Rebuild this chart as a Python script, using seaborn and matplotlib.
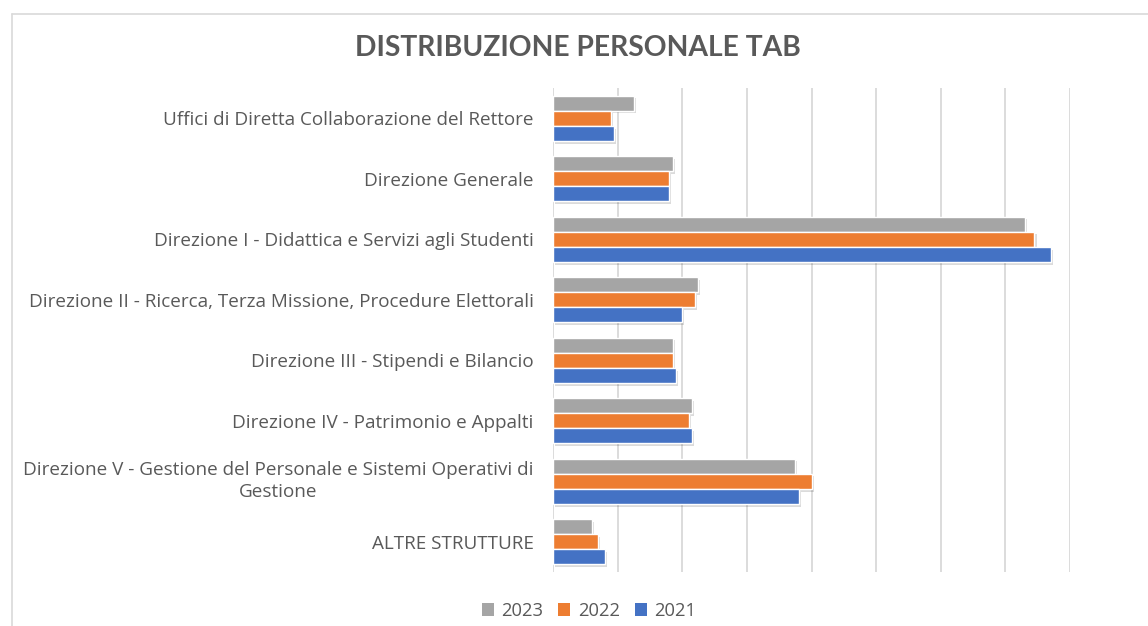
import matplotlib
matplotlib.use("Agg")
import matplotlib.pyplot as plt
import matplotlib.patheffects as pe
from matplotlib.lines import Line2D
from matplotlib.patches import Patch
import pandas as pd
import seaborn as sns

# Staff headcount per organisational unit
strutture = [
    "Uffici di Diretta Collaborazione del Rettore",
    "Direzione Generale",
    "Direzione I - Didattica e Servizi agli Studenti",
    "Direzione II - Ricerca, Terza Missione, Procedure Elettorali",
    "Direzione III - Stipendi e Bilancio",
    "Direzione IV - Patrimonio e Appalti",
    "Direzione V - Gestione del Personale e Sistemi Operativi di\nGestione",
    "ALTRE STRUTTURE",
]
anni = ["2023", "2022", "2021"]
valori_2023 = [25, 37, 146, 45, 37, 43, 75, 12]
valori_2022 = [18, 36, 149, 44, 37, 42, 80, 14]
valori_2021 = [19, 36, 154, 40, 38, 43, 76, 16]
colori = ["#A5A5A5", "#ED7D31", "#4472C4"]

df = pd.DataFrame({
    "Struttura": strutture * 3,
    "Anno": [a for a in anni for _ in strutture],
    "Personale": valori_2023 + valori_2022 + valori_2021,
})

sns.set_theme(style="white")
plt.rcParams["font.family"] = ["Open Sans", "DejaVu Sans"]
testo = "#595959"

W, H = 1148, 626
fig = plt.figure(figsize=(W / 100, H / 100), dpi=100)
fig.patch.set_facecolor("white")

# chart frame
fig.add_artist(Line2D([12 / W, 1.0], [1 - 14 / H, 1 - 14 / H], color="#D9D9D9", lw=1.2,
                      transform=fig.transFigure))
fig.add_artist(Line2D([12 / W, 12 / W], [0.0, 1 - 14 / H], color="#D9D9D9", lw=1.2,
                      transform=fig.transFigure))

ax = fig.add_axes([553 / W, 1 - 572 / H, (1070 - 553) / W, (572 - 88) / H])
sns.barplot(data=df, y="Struttura", x="Personale", hue="Anno", hue_order=anni,
            order=strutture, palette=colori, orient="h", width=0.75,
            saturation=1, legend=False, ax=ax)

for p in ax.patches:
    p.set_path_effects([pe.SimplePatchShadow(offset=(1.5, -2), shadow_rgbFace="black", alpha=0.14),
                        pe.Normal()])

ax.set_xlim(0, 160)
ax.set_ylim(7.5, -0.5)
ax.set_xticks(range(0, 161, 20))
ax.set_xticklabels([])
ax.grid(axis="x", color="#D9D9D9", lw=1.3)
ax.set_axisbelow(True)
for s in ax.spines.values():
    s.set_visible(False)
ax.tick_params(axis="both", length=0)
ax.tick_params(axis="y", pad=14, labelsize=13.6, labelcolor=testo)
ax.set_xlabel("")
ax.set_ylabel("")
for lbl in ax.get_yticklabels():
    if "\n" in lbl.get_text():
        lbl.set_multialignment("center")
        lbl.set_linespacing(1.28)
        lbl.set_verticalalignment("center")
    else:
        lbl.set_verticalalignment("center_baseline")

fig.text(578 / W, 1 - 48 / H, "DISTRIBUZIONE PERSONALE TAB", ha="center", va="center",
         fontsize=20.3, fontweight="bold", color=testo, family=["Lato", "DejaVu Sans"])

handles = [Patch(facecolor=c, edgecolor="none") for c in colori]
fig.legend(handles, anni, loc="center", bbox_to_anchor=(589 / W, 1 - 611 / H), ncol=3,
           frameon=False, handlelength=0.65, handleheight=0.65, handletextpad=0.4,
           columnspacing=0.85, fontsize=13.2, labelcolor=testo)

fig.savefig("out.png", dpi=100)
